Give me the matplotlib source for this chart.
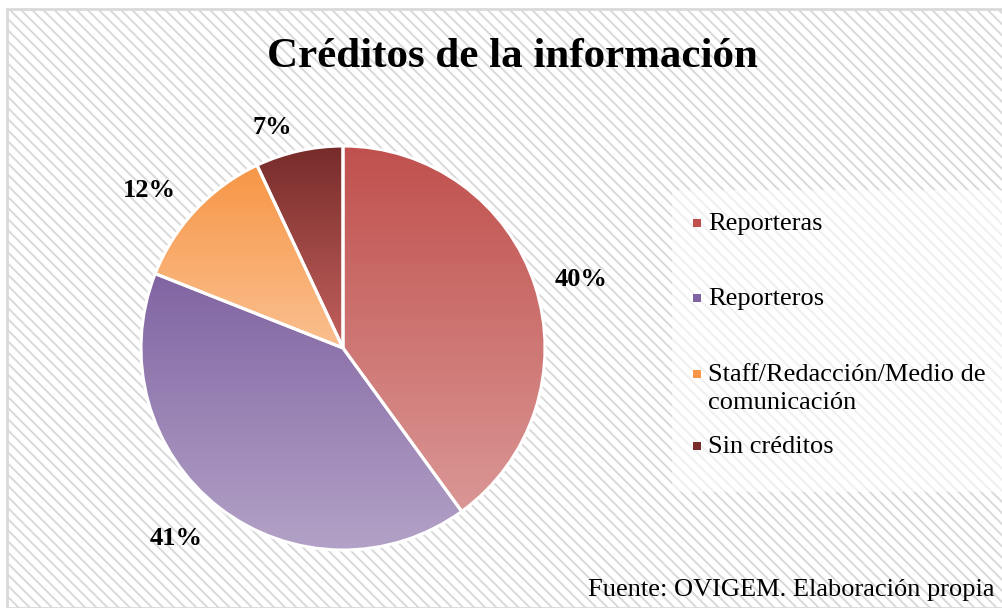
import numpy as np
import matplotlib
matplotlib.use("Agg")
import matplotlib.pyplot as plt
from matplotlib.patches import Rectangle
from matplotlib.colors import LinearSegmentedColormap

# ---------- Data ----------
categories = ["Reporteras", "Reporteros", "Staff/Redacción/Medio de\ncomunicación", "Sin créditos"]
values = [40, 41, 12, 7]
top_colors = ["#C0504D", "#8064A2", "#F79646", "#772C2A"]
bottom_colors = ["#DA9795", "#B3A2C7", "#FAC090", "#C3615E"]

TITLE = "Créditos de la información"
SOURCE = "Fuente: OVIGEM. Elaboración propia"

plt.rcParams["font.family"] = ["Liberation Serif", "DejaVu Serif"]
plt.rcParams["hatch.linewidth"] = 1.4
plt.rcParams["hatch.color"] = "#E6E6E6"

W, H = 1003, 608
fig = plt.figure(figsize=(W / 100, H / 100), dpi=100)
fig.patch.set_facecolor("white")

# hatched background with light border
bg = Rectangle((7 / W, 0), 1 - 7 / W, 1 - 9 / H, transform=fig.transFigure,
               facecolor="white", edgecolor="#D9D9D9", linewidth=2, hatch="\\\\\\", zorder=-5)
fig.patches.append(bg)
# faded box behind the legend
fig.patches.append(Rectangle((672 / W, 1 - 492 / H), 1 - 672 / W, 302 / H, transform=fig.transFigure,
                             facecolor="white", edgecolor="none", alpha=0.6, zorder=-4))

# ---------- Pie ----------
cx, cy, r = 343, 348, 202
ax = fig.add_axes([(cx - r) / W, (H - cy - r) / H, 2 * r / W, 2 * r / H])
wedges, _, autotexts = ax.pie(values, startangle=90, counterclock=False,
                              autopct="%d%%", pctdistance=1.23,
                              wedgeprops=dict(edgecolor="white", linewidth=2.2),
                              textprops=dict(fontsize=19, fontweight="bold", color="black"))
ax.set_aspect("equal")

grad = np.linspace(0, 1, 256).reshape(-1, 1)
for w, c0, c1 in zip(wedges, top_colors, bottom_colors):
    w.set_facecolor("none")
    w.set_clip_on(False)
    ext = w.get_path().get_extents()
    cmap = LinearSegmentedColormap.from_list("g", [c1, c0])
    im = ax.imshow(grad, cmap=cmap, origin="lower", aspect="auto",
                   extent=(ext.x0, ext.x1, ext.y0, ext.y1), zorder=w.get_zorder() - 0.1)
    im.set_clip_path(w)
ax.set_xlim(-1, 1)
ax.set_ylim(-1, 1)
ax.set_axis_off()

# small nudges for label positions
offsets = [(0.01, -0.04), (-0.07, 0.03), (-0.06, -0.06), (-0.08, -0.11)]
for t, (dx, dy) in zip(autotexts, offsets):
    x, y = t.get_position()
    t.set_position((x + dx, y + dy))
    t.set_clip_on(False)

# ---------- Title ----------
fig.text(512 / W, 1 - 57 / H, TITLE, ha="center", va="center", fontsize=31, fontweight="bold")

# ---------- Legend ----------
legend_y = [224, 299, 389, 447]
for name, y, c0, c1 in zip(categories, legend_y, top_colors, bottom_colors):
    first_line = y - 14 if "\n" in name else y
    fig.patches.append(Rectangle((693 / W, 1 - (first_line + 3) / H), 8 / W, 8 / H,
                                 transform=fig.transFigure, facecolor=c0, edgecolor="none"))
    fig.text(708 / W, 1 - y / H, name, ha="left", va="center", fontsize=19, linespacing=1.32)

# ---------- Source ----------
fig.text(995 / W, 1 - 590 / H, SOURCE, ha="right", va="center", fontsize=19)

fig.savefig("out.png", dpi=100)
